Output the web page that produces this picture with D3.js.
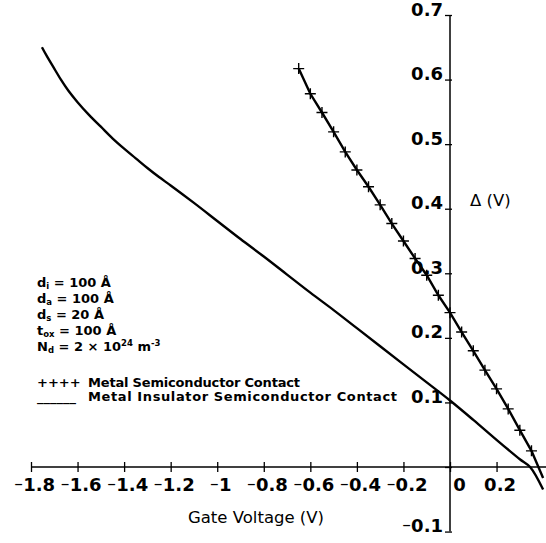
<!DOCTYPE html>
<html>
<head>
<meta charset="utf-8">
<title>Delta vs Gate Voltage</title>
<script src="https://d3js.org/d3.v7.min.js"></script>
<style>
  body { margin: 0; background: #fff; }
  svg { display: block; }
  .tick text { font-family: "DejaVu Sans", sans-serif; font-weight: bold; font-size: 18px; fill: #000; }
  .note { font-family: "DejaVu Sans", sans-serif; font-weight: bold; font-size: 13px; fill: #000; }
  .title { font-family: "DejaVu Sans", sans-serif; font-size: 16.5px; fill: #000; }
</style>
</head>
<body>
<div id="chart"></div>
<script>
// Metal Insulator Semiconductor contact (solid curve)
var misV = [-1.753, -1.73, -1.70, -1.67, -1.64, -1.60, -1.55, -1.50, -1.45, -1.40, -1.35, -1.30,
            -1.25, -1.20, -1.10, -1.00, -0.90, -0.80, -0.70, -0.60, -0.50, -0.40, -0.30, -0.20,
            -0.10, 0.00, 0.10, 0.20, 0.30, 0.344, 0.40];
var misD = [0.650, 0.635, 0.617, 0.599, 0.583, 0.565, 0.545, 0.527, 0.509, 0.493, 0.478, 0.463,
            0.449, 0.436, 0.409, 0.381, 0.353, 0.326, 0.298, 0.270, 0.243, 0.215, 0.187, 0.159,
            0.131, 0.103, 0.073, 0.042, 0.012, 0.000, -0.035];

// Metal Semiconductor contact (line with + markers), last point is the line end only
var msV = [-0.65, -0.60, -0.55, -0.50, -0.45, -0.40, -0.35, -0.30, -0.25, -0.20, -0.15, -0.10,
           -0.05, 0.00, 0.05, 0.10, 0.15, 0.20, 0.25, 0.30, 0.35, 0.40];
var msD = [0.617, 0.578, 0.549, 0.519, 0.488, 0.460, 0.434, 0.406, 0.377, 0.350, 0.323, 0.297,
           0.266, 0.239, 0.209, 0.180, 0.150, 0.121, 0.090, 0.057, 0.025, -0.017];

var xTicks = [-1.8, -1.6, -1.4, -1.2, -1, -0.8, -0.6, -0.4, -0.2, 0, 0.2];
var yTicks = [-0.1, 0, 0.1, 0.2, 0.3, 0.4, 0.5, 0.6, 0.7];

var params = [
  [["d", ""], ["i", "sub"], [" = 100 Å", ""]],
  [["d", ""], ["a", "sub"], [" = 100 Å", ""]],
  [["d", ""], ["s", "sub"], [" = 20 Å", ""]],
  [["t", ""], ["ox", "sub"], [" = 100 Å", ""]],
  [["N", ""], ["d", "sub"], [" = 2 × 10", ""], ["24", "sup"], [" m", ""], ["-3", "sup"]]
];
var legendKeys = ["++++", "______"];
var legendLabels = ["Metal Semiconductor Contact", "Metal Insulator Semiconductor Contact"];

var width = 546, height = 543;

var svg = d3.select("#chart").append("svg")
    .attr("width", width)
    .attr("height", height);

var x = d3.scaleLinear().domain([-1.8, 0]).range([31, 450]);
var y = d3.scaleLinear().domain([0, 0.7]).range([467, 15]);

function fmt(d) {
  return d === 0 ? "0" : d3.format("")(Math.abs(d));
}

function signedLabel(sel, d) {
  if (d < 0) sel.append("tspan").style("font-size", "11px").attr("dy", -3).text("−");
  sel.append("tspan").attr("dy", d < 0 ? 3 : 0).text(fmt(d));
}

// x axis
var xAxis = svg.append("g")
    .attr("transform", "translate(0," + y(0) + ")")
    .call(d3.axisBottom(x).tickValues(xTicks).tickSize(5).tickSizeOuter(0).tickFormat(""));
xAxis.select(".domain").attr("d", "M" + x(-1.8) + ",0H" + width).attr("stroke-width", 1.5);
xAxis.selectAll(".tick line").attr("y1", -5).attr("y2", 5).attr("stroke-width", 1.3);
xAxis.selectAll(".tick").each(function(d) {
  var t = d3.select(this).append("text")
      .attr("y", 24)
      .attr("x", d === 0 ? 9 : 3)
      .attr("text-anchor", "middle");
  signedLabel(t, d);
});

// y axis
var yAxis = svg.append("g")
    .attr("transform", "translate(" + x(0) + ",0)")
    .call(d3.axisLeft(y).tickValues(yTicks).tickSize(5).tickSizeOuter(0).tickFormat(""));
yAxis.select(".domain").attr("d", "M0," + y(0.7) + "V" + y(-0.1)).attr("stroke-width", 1.5);
yAxis.selectAll(".tick line").attr("x1", 2).attr("x2", -5).attr("stroke-width", 1.3);
yAxis.selectAll(".tick").filter(function(d) { return d !== 0; }).each(function(d) {
  var t = d3.select(this).append("text")
      .attr("x", -7)
      .attr("dy", "0.36em")
      .attr("text-anchor", "end");
  signedLabel(t, d);
});

// axis titles
svg.append("text").attr("class", "title")
    .attr("x", 256).attr("y", 523).attr("text-anchor", "middle")
    .text("Gate Voltage (V)");
svg.append("text").attr("class", "title")
    .attr("x", 470).attr("y", 206)
    .text("Δ (V)");

// curves
var mis = misV.map(function(v, i) { return [v, misD[i]]; });
var ms = msV.map(function(v, i) { return [v, msD[i]]; });

var line = d3.line()
    .x(function(d) { return x(d[0]); })
    .y(function(d) { return y(d[1]); });

svg.append("path")
    .datum(mis)
    .attr("d", line.curve(d3.curveCatmullRom))
    .attr("fill", "none")
    .attr("stroke", "#000")
    .attr("stroke-width", 2.4);

svg.append("path")
    .datum(ms)
    .attr("d", line.curve(d3.curveLinear))
    .attr("fill", "none")
    .attr("stroke", "#000")
    .attr("stroke-width", 2.4);

// + markers
svg.selectAll(".mark")
    .data(ms.slice(0, ms.length - 1))
    .enter().append("path")
    .attr("class", "mark")
    .attr("d", "M-5.5,0H5.5M0,-5.5V5.5")
    .attr("transform", function(d) { return "translate(" + x(d[0]) + "," + y(d[1]) + ")"; })
    .attr("stroke", "#000")
    .attr("stroke-width", 1.4);

// parameter block
params.forEach(function(row, i) {
  var t = svg.append("text").attr("class", "note")
      .attr("x", 37).attr("y", 287 + i * 16);
  var prev = 0;
  row.forEach(function(p) {
    var s = t.append("tspan").text(p[0]);
    var shift = p[1] === "sub" ? 2 : p[1] === "sup" ? -5 : 0;
    if (p[1]) s.style("font-size", "8.5px");
    s.attr("dy", shift - prev);
    prev = shift;
  });
});

// legend
var labelWidths = [212, 309];
legendLabels.forEach(function(s, i) {
  svg.append("text").attr("class", "note")
      .attr("x", 37).attr("y", 387 + i * 14)
      .text(legendKeys[i]);
  svg.append("text").attr("class", "note")
      .attr("x", 88).attr("y", 387 + i * 14)
      .attr("textLength", labelWidths[i])
      .text(s);
});
</script>
</body>
</html>
